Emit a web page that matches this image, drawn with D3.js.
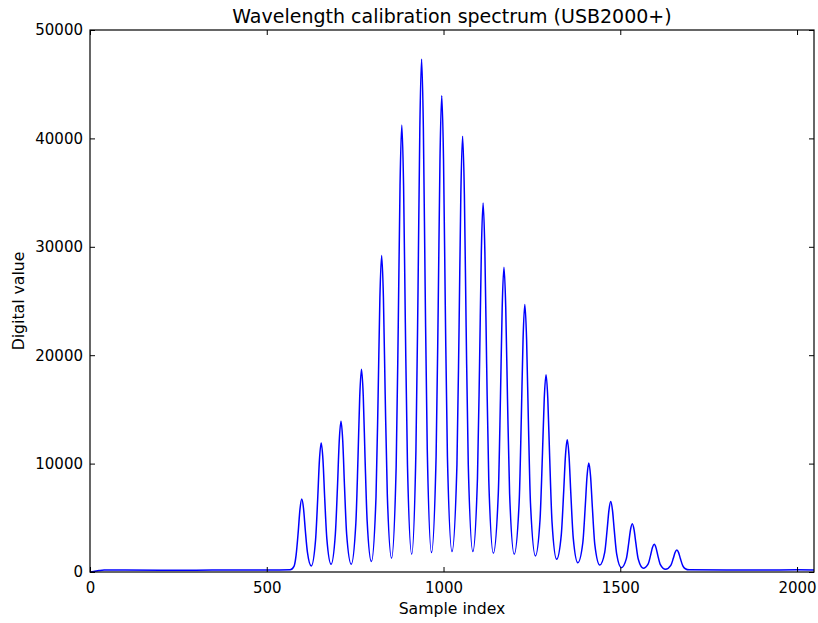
<!DOCTYPE html>
<html>
<head>
<meta charset="utf-8">
<script src="https://cdn.jsdelivr.net/npm/d3@7"></script>
<style>
  html, body { margin: 0; padding: 0; background: #ffffff; }
  svg { display: block; font-family: "DejaVu Sans", sans-serif; }
</style>
</head>
<body>
<svg id="chart" width="818" height="623"></svg>
<script>
// Spectrum samples: sample index and digital value (baseline, peak flanks, peaks, valleys)
const sampleIndex = [
  0, 10, 25, 40, 100, 200, 300, 400, 500, 566, 577,
  583, 589, 594, 599, 604, 609, 615, 626,
  638, 644, 649, 654, 659, 664, 670, 682,
  694, 700, 705, 710, 715, 720, 726, 739,
  752, 758, 763, 768, 773, 778, 784, 796,
  809, 815, 820, 825, 830, 835, 841, 853,
  866, 872, 877, 882, 887, 892, 898, 910,
  922, 928, 933, 938, 943, 948, 954, 966,
  979, 985, 990, 995, 1000, 1005, 1011, 1024,
  1038, 1044, 1049, 1054, 1059, 1064, 1070, 1083,
  1096, 1102, 1107, 1112, 1117, 1122, 1128, 1141,
  1155, 1161, 1166, 1171, 1176, 1181, 1187, 1200,
  1214, 1220, 1225, 1230, 1235, 1240, 1246, 1260,
  1273, 1280, 1285, 1290, 1295, 1300, 1307, 1320,
  1333, 1340, 1345, 1350, 1355, 1360, 1367, 1380,
  1394, 1401, 1406, 1411, 1416, 1421, 1428, 1442,
  1456, 1463, 1468, 1473, 1478, 1483, 1490, 1503,
  1517, 1524, 1529, 1534, 1539, 1544, 1551, 1565,
  1579, 1586, 1591, 1596, 1601, 1606, 1613, 1628,
  1643, 1650, 1655, 1660, 1665, 1670, 1677, 1684, 1695,
  1800, 1900, 2000, 2048
];
const digitalValue = [
  0, 40, 130, 190, 180, 170, 170, 180, 190, 200, 520,
  1560, 3700, 5800, 6730, 5860, 3880, 1840, 560,
  2930, 6680, 10320, 11900, 10340, 6760, 3060, 720,
  3480, 7840, 12060, 13900, 12060, 7840, 3480, 720,
  4500, 10430, 16180, 18700, 16220, 10540, 4690, 960,
  6900, 16230, 25270, 29200, 25300, 16370, 7150, 1280,
  9670, 22850, 35640, 41230, 35690, 23020, 9950, 1640,
  11230, 26300, 40900, 47300, 40920, 26370, 11350, 1790,
  10640, 24550, 38030, 43930, 38060, 24590, 10710, 1880,
  9930, 22580, 34840, 40200, 34840, 22580, 9930, 1880,
  8630, 19250, 29540, 34040, 29520, 19180, 8520, 1730,
  7270, 15990, 24430, 28120, 24420, 15950, 7200, 1640,
  6480, 14090, 21460, 24680, 21440, 14020, 6350, 1480,
  4820, 11010, 16020, 18200, 15980, 10880, 4580, 1180,
  3380, 7460, 10760, 12200, 10720, 7330, 3130, 860,
  2700, 6090, 8830, 10050, 8810, 6000, 2530, 650,
  1820, 3970, 5710, 6500, 5680, 3860, 1620, 400,
  1210, 2700, 3910, 4460, 3910, 2680, 1170, 350,
  750, 1580, 2260, 2550, 2250, 1560, 710, 250,
  610, 1260, 1800, 2030, 1790, 1240, 560, 300, 200,
  190, 190, 200, 190
];

// Axis ticks
const xTicks = [0, 500, 1000, 1500, 2000];
const yTicks = [0, 10000, 20000, 30000, 40000, 50000];

const titleText = "Wavelength calibration spectrum (USB2000+)";
const xLabel = "Sample index";
const yLabel = "Digital value";

const points = sampleIndex.map((x, i) => ({ x, y: digitalValue[i] }));

const W = 818, H = 623;
const margin = { top: 30, right: 4, bottom: 51, left: 90 };
const iw = W - margin.left - margin.right;
const ih = H - margin.top - margin.bottom;

const svg = d3.select("#chart");
svg.append("rect").attr("width", W).attr("height", H).attr("fill", "#ffffff");

const g = svg.append("g").attr("transform", `translate(${margin.left},${margin.top})`);

const x = d3.scaleLinear().domain([0, 2048]).range([0, iw]);
const y = d3.scaleLinear().domain([0, 50000]).range([ih, 0]);

// Clip the trace to the axes rectangle
svg.append("defs").append("clipPath").attr("id", "plot-clip")
  .append("rect").attr("width", iw).attr("height", ih);

const line = d3.line()
  .x(d => x(d.x))
  .y(d => y(d.y))
  .curve(d3.curveMonotoneX);

g.append("path")
  .datum(points)
  .attr("clip-path", "url(#plot-clip)")
  .attr("fill", "none")
  .attr("stroke", "#0000ff")
  .attr("stroke-width", 1.5)
  .attr("stroke-linejoin", "round")
  .attr("d", line);

// Ticks pointing inward on all four sides
const tickLen = 5;
const fontSize = 15;
const labelSize = 15.7;

const bottomAxis = d3.axisBottom(x).tickValues(xTicks).tickSizeInner(-tickLen).tickSizeOuter(0).tickPadding(10).tickFormat(d3.format("d"));
const topAxis = d3.axisTop(x).tickValues(xTicks).tickSizeInner(-tickLen).tickSizeOuter(0).tickFormat("");
const leftAxis = d3.axisLeft(y).tickValues(yTicks).tickSizeInner(-tickLen).tickSizeOuter(0).tickPadding(7).tickFormat(d3.format("d"));
const rightAxis = d3.axisRight(y).tickValues(yTicks).tickSizeInner(-tickLen).tickSizeOuter(0).tickFormat("");

function styleAxis(sel) {
  sel.select(".domain").remove();
  sel.selectAll(".tick line").attr("stroke", "#000").attr("stroke-width", 1);
  sel.selectAll(".tick text").attr("fill", "#000").attr("font-size", fontSize)
    .attr("font-family", "DejaVu Sans, sans-serif");
}

g.append("g").attr("transform", `translate(0,${ih})`).call(bottomAxis).call(styleAxis);
g.append("g").call(topAxis).call(styleAxis);
g.append("g").call(leftAxis).call(styleAxis);
g.append("g").attr("transform", `translate(${iw},0)`).call(rightAxis).call(styleAxis);

// Axes frame
g.append("rect")
  .attr("x", 0).attr("y", 0).attr("width", iw).attr("height", ih)
  .attr("fill", "none").attr("stroke", "#000").attr("stroke-width", 1.2);

// Title and axis labels
svg.append("text")
  .attr("x", margin.left + iw / 2).attr("y", 23)
  .attr("text-anchor", "middle").attr("font-size", 19).attr("fill", "#000")
  .text(titleText);

svg.append("text")
  .attr("x", margin.left + iw / 2).attr("y", 614)
  .attr("text-anchor", "middle").attr("font-size", labelSize).attr("fill", "#000")
  .text(xLabel);

svg.append("text")
  .attr("transform", `translate(24,${margin.top + ih / 2}) rotate(-90)`)
  .attr("text-anchor", "middle").attr("font-size", labelSize).attr("fill", "#000")
  .text(yLabel);
</script>
</body>
</html>
